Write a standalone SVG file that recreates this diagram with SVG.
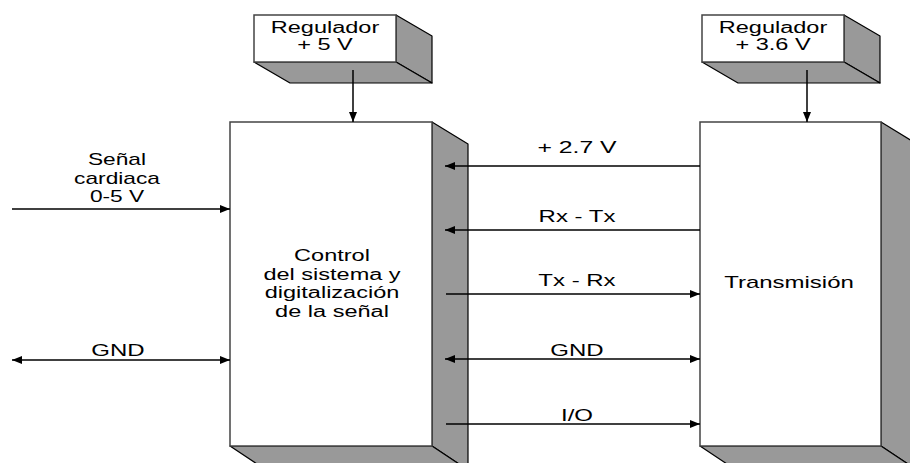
<svg xmlns="http://www.w3.org/2000/svg" width="910" height="463" viewBox="0 0 910 463">
<defs>
<marker id="ah" viewBox="0 0 10 8" refX="10" refY="4" markerWidth="10" markerHeight="8" markerUnits="userSpaceOnUse" orient="auto-start-reverse">
<path d="M0,0 L10,4 L0,8 Z" fill="#000"/>
</marker>
</defs>
<style>
.front{fill:#fff;stroke:#444;stroke-width:1.5}
.side{fill:#999;stroke:#000;stroke-width:1.2;stroke-linejoin:round}
.t{font-family:"Liberation Sans",Arial,sans-serif;font-size:16px;fill:#000;text-anchor:middle}
.c{stroke:#000;stroke-width:1.5;fill:none}
</style>
<rect width="910" height="463" fill="#fff"/>
<g id="reg5">
<polygon class="side" points="396,15 432,36 432,83 396,62"/>
<polygon class="side" points="254,62 396,62 432,83 290,83"/>
<rect class="front" x="254" y="15" width="142" height="47"/>
<text class="t" transform="translate(325,33) scale(1.47,1)">Regulador</text>
<text class="t" transform="translate(325,50) scale(1.47,1)">+ 5 V</text>
</g>
<g id="reg36">
<polygon class="side" points="844,15 880,36 880,83 844,62"/>
<polygon class="side" points="702,62 844,62 880,83 738,83"/>
<rect class="front" x="702" y="15" width="142" height="47"/>
<text class="t" transform="translate(773,33) scale(1.47,1)">Regulador</text>
<text class="t" transform="translate(773,50) scale(1.47,1)">+ 3.6 V</text>
</g>
<g id="control">
<polygon class="side" points="432,122 468,144 468,470 432,446"/>
<polygon class="side" points="230,446 432,446 468,470 266,470"/>
<rect class="front" x="230" y="122" width="202" height="324"/>
<text class="t" transform="translate(332,261) scale(1.47,1)">Control</text>
<text class="t" transform="translate(332,280) scale(1.47,1)">del sistema y</text>
<text class="t" transform="translate(332,298) scale(1.47,1)">digitalización</text>
<text class="t" transform="translate(332,317) scale(1.47,1)">de la señal</text>
</g>
<g id="transmision">
<polygon class="side" points="881,122 917,144 917,470 881,446"/>
<polygon class="side" points="700,446 881,446 917,470 736,470"/>
<rect class="front" x="700" y="122" width="181" height="324"/>
<text class="t" transform="translate(789,288) scale(1.5,1)">Transmisión</text>
</g>
<g id="connectors">
<line class="c" x1="353" y1="70" x2="353" y2="122" marker-end="url(#ah)"/>
<line class="c" x1="807" y1="70" x2="807" y2="122" marker-end="url(#ah)"/>
<line class="c" x1="12" y1="209" x2="230" y2="209" marker-end="url(#ah)"/>
<line class="c" x1="12" y1="360" x2="230" y2="360" marker-start="url(#ah)" marker-end="url(#ah)"/>
<line class="c" x1="700" y1="166" x2="445" y2="166" marker-end="url(#ah)"/>
<line class="c" x1="700" y1="230" x2="445" y2="230" marker-end="url(#ah)"/>
<line class="c" x1="446" y1="294" x2="700" y2="294" marker-end="url(#ah)"/>
<line class="c" x1="445" y1="359" x2="700" y2="359" marker-start="url(#ah)" marker-end="url(#ah)"/>
<line class="c" x1="446" y1="424" x2="700" y2="424" marker-end="url(#ah)"/>
<text class="t" transform="translate(117,165) scale(1.42,1)">Señal</text>
<text class="t" transform="translate(117,184) scale(1.42,1)">cardiaca</text>
<text class="t" transform="translate(117,202) scale(1.42,1)">0-5 V</text>
<text class="t" transform="translate(118,356) scale(1.5,1)">GND</text>
<text class="t" transform="translate(577,153) scale(1.55,1)">+ 2.7 V</text>
<text class="t" transform="translate(577,222) scale(1.5,1)">Rx - Tx</text>
<text class="t" transform="translate(577,286) scale(1.5,1)">Tx - Rx</text>
<text class="t" transform="translate(577,356) scale(1.5,1)">GND</text>
<text class="t" transform="translate(577,421) scale(1.5,1)">I/O</text>
</g>
</svg>
